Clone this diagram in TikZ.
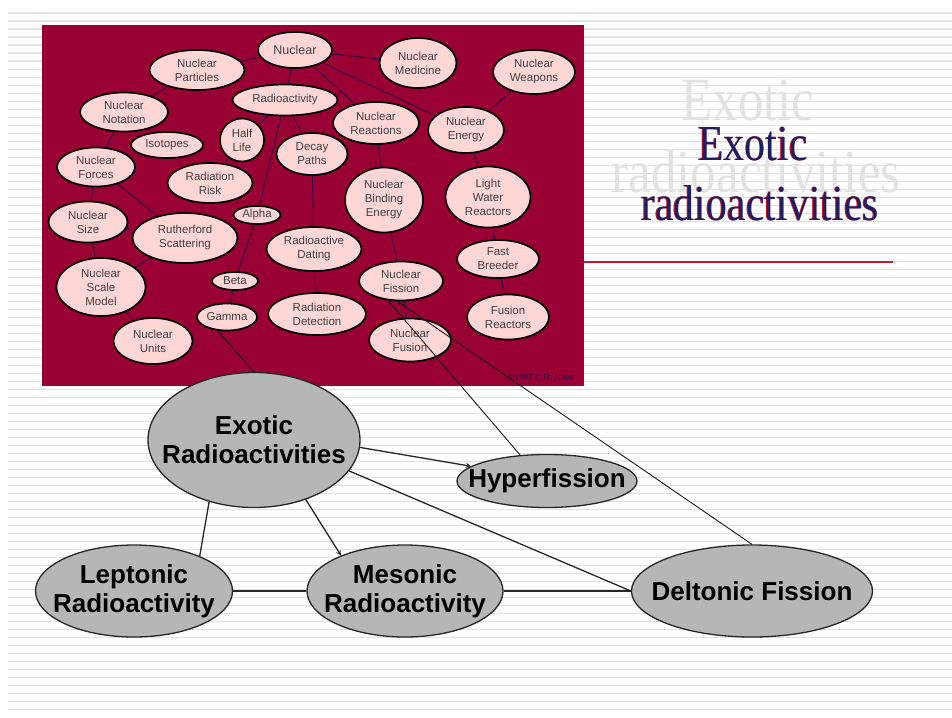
\documentclass[tikz,border=0pt]{standalone}
\usepackage{fontspec}
\setmainfont{Liberation Sans}
\newfontfamily\ttlserif{Liberation Serif}
\usepackage{tikz}
\usetikzlibrary{shapes.geometric, arrows, positioning}
\definecolor{mapred}{RGB}{153, 0, 51}
\definecolor{mappink}{RGB}{255, 214, 214}
\definecolor{mapline}{RGB}{40, 12, 65}
\definecolor{stripe}{RGB}{226, 226, 226}
\definecolor{ghost}{RGB}{226, 226, 226}
\definecolor{ttlblue}{RGB}{30, 30, 100}
\definecolor{ttlred}{RGB}{205, 20, 40}
\definecolor{oval}{RGB}{182, 182, 182}

\begin{document}
\begin{tikzpicture}[
    x=1pt, y=-1pt,
    sz/.style 2 args={minimum width=#1pt, minimum height=#2pt},
    topic/.style={ellipse, draw=black, line width=1.7pt, fill=mappink, inner sep=0pt, align=center, text=black!75, font=\fontsize{11.5}{14}\selectfont},
    theme/.style={ellipse, draw=black!85, line width=1.3pt, fill=oval, inner sep=0pt},
    themetext/.style={align=center, font=\bfseries\fontsize{26}{29}\selectfont},
    link/.style={mapline, line width=0.8pt},
    wire/.style={black!90, line width=0.9pt},
    arrow/.style={->, >=stealth, line width=1.3pt, black!85},
    bond/.style={line width=1.3pt, black!85}
]
    \useasboundingbox (0,0) rectangle (952,717);
    % striped slide background
    \foreach \k in {1,...,88}
        \draw[stripe, line width=1.6pt] (8,{5.3+8*\k}) -- (952,{5.3+8*\k});

    % title
    \node[anchor=base, text=ghost, font=\ttlserif\fontsize{51}{51}\selectfont] (ghostA) at (748,120) {\scalebox{1}[1.2]{Exotic}};
    \node[anchor=base, text=ghost, font=\ttlserif\fontsize{51}{51}\selectfont] (ghostB) at (756,192) {\scalebox{1}[1.2]{radioactivities}};
    \node[anchor=base, text=ttlred, font=\ttlserif\fontsize{42}{42}\selectfont] (shadeA) at (752.2,160) {\scalebox{1}[1.2]{Exotic}};
    \node[anchor=base, text=ttlred, font=\ttlserif\fontsize{42}{42}\selectfont] (shadeB) at (759.2,220) {\scalebox{1}[1.2]{radioactivities}};
    \node[anchor=base, text=ttlblue, font=\ttlserif\fontsize{42}{42}\selectfont] (titleA) at (753,160) {\scalebox{1}[1.2]{Exotic}};
    \node[anchor=base, text=ttlblue, font=\ttlserif\fontsize{42}{42}\selectfont] (titleB) at (760,220) {\scalebox{1}[1.2]{radioactivities}};
    \draw[ttlred, line width=1.2pt] (584,262) -- (893,262);

    % concept map
    \fill[mapred] (42,25) rectangle (584,386);
    \node[topic, sz={74}{36}, font=\fontsize{12.5}{14}\selectfont] (nuclear) at (295,50) {Nuclear};
    \node[topic, sz={95}{40}] (particles) at (197,70) {Nuclear\\Particles};
    \node[topic, sz={88}{39}] (notation) at (124,112) {Nuclear\\Notation};
    \node[topic, sz={72}{26}] (isotopes) at (167,145) {Isotopes};
    \node[topic, sz={78}{39}] (forces) at (96,167) {Nuclear\\Forces};
    \node[topic, sz={44}{43}] (halflife) at (242,140) {Half\\Life};
    \node[topic, sz={85}{40}] (risk) at (210,183) {Radiation\\Risk};
    \node[topic, sz={105}{31}] (radioact) at (285,100) {Radioactivity};
    \node[topic, sz={71}{42}] (decay) at (312,154) {Decay\\Paths};
    \node[topic, sz={77}{50}] (medicine) at (418,63) {Nuclear\\Medicine};
    \node[topic, sz={82}{44}] (weapons) at (534,72) {Nuclear\\Weapons};
    \node[topic, sz={86}{42}] (reactions) at (376,123) {Nuclear\\Reactions};
    \node[topic, sz={76}{46}] (energy) at (466,130) {Nuclear\\Energy};
    \node[topic, sz={78}{65}] (binding) at (384,200) {Nuclear\\Binding\\Energy};
    \node[topic, sz={85}{61}] (water) at (488,197) {Light\\Water\\Reactors};
    \node[topic, sz={79}{41}] (size) at (88,222) {Nuclear\\Size};
    \node[topic, sz={105}{50}] (rutherford) at (185,238) {Rutherford\\Scattering};
    \node[topic, sz={47}{18}] (alpha) at (257,215) {Alpha};
    \node[topic, sz={95}{44}] (dating) at (314,249) {Radioactive\\Dating};
    \node[topic, sz={89}{58}] (scale) at (101,287) {Nuclear\\Scale\\Model};
    \node[topic, sz={46}{18}] (beta) at (235,281) {Beta};
    \node[topic, sz={60}{27}] (gamma) at (227,317) {Gamma};
    \node[topic, sz={79}{46}] (units) at (153,341) {Nuclear\\Units};
    \node[topic, sz={98}{42}] (detection) at (317,314) {Radiation\\Detection};
    \node[topic, sz={84}{39}] (fission) at (401,281) {Nuclear\\Fission};
    \node[topic, sz={82}{38}] (breeder) at (498,259) {Fast\\Breeder};
    \node[topic, sz={82}{45}] (fusionr) at (508,317) {Fusion\\Reactors};
    \node[topic, sz={82}{43}] (fusion) at (410,340) {Nuclear\\Fusion};
    \node[text=mapline, font=\fontsize{8.5}{9}\selectfont] (credit) at (541,378) {\copyright 1997 C.R. Nave};

    \draw[link] (nuclear) -- (particles);
    \draw[link] (nuclear) -- (radioact);
    \draw[link] (nuclear) -- (medicine);
    \draw[link] (nuclear) -- (reactions);
    \draw[link] (nuclear) -- (energy);
    \draw[link] (particles) -- (notation);
    \draw[link] (notation) -- (forces);
    \draw[link] (forces) -- (size);
    \draw[link] (forces) -- (rutherford);
    \draw[link] (size) -- (rutherford);
    \draw[link] (size) -- (scale);
    \draw[link] (scale) -- (rutherford);
    \draw[link] (scale) -- (units);
    \draw[link] (radioact) -- (halflife);
    \draw[link] (halflife) -- (risk);
    \draw[link] (radioact) -- (decay);
    \draw[link] (radioact) -- (alpha);
    \draw[link] (alpha) -- (beta);
    \draw[link] (beta) -- (gamma);
    \draw[link] (decay) -- (dating);
    \draw[link] (dating) -- (detection);
    \draw[link] (reactions) -- (binding);
    \draw[link] (binding) -- (fission);
    \draw[link] (fission) -- (fusion);
    \draw[link] (energy) -- (weapons);
    \draw[link] (energy) -- (water);
    \draw[link] (water) -- (breeder);
    \draw[link] (breeder) -- (fusionr);

    % exotic radioactivities
    \node[theme, sz={212}{135}, label={[themetext]center:Exotic\\Radioactivities}] (exotic) at (254,440) {};
    \node[theme, sz={180}{53}, label={[themetext]center:Hyperfission}] (hyper) at (547,481) {};
    \node[theme, sz={197}{92}, label={[themetext]center:Leptonic\\Radioactivity}] (leptonic) at (134,591) {};
    \node[theme, sz={196}{92}, label={[themetext]center:Mesonic\\Radioactivity}] (mesonic) at (405,591) {};
    \node[theme, sz={241}{92}, label={[themetext]center:Deltonic Fission}] (deltonic) at (752,591) {};

    \draw[wire] (gamma.-125) -- (exotic.north);
    \draw[wire, <-, >=stealth] (fission.-124) -- (hyper.136);
    \draw[wire, <-, >=stealth] (fission.-100) -- (deltonic.north);
    \draw[arrow] (exotic.-4) -- (hyper.169);
    \draw[arrow] (exotic.-49) -- (mesonic.151);
    \draw[bond] (exotic.-126) -- (leptonic.28);
    \draw[bond] (exotic.-18) -- (deltonic.west);
    \draw[bond, line width=1.8pt] (leptonic) -- (mesonic);
    \draw[bond, line width=1.8pt] (mesonic) -- (deltonic);
\end{tikzpicture}
\end{document}
